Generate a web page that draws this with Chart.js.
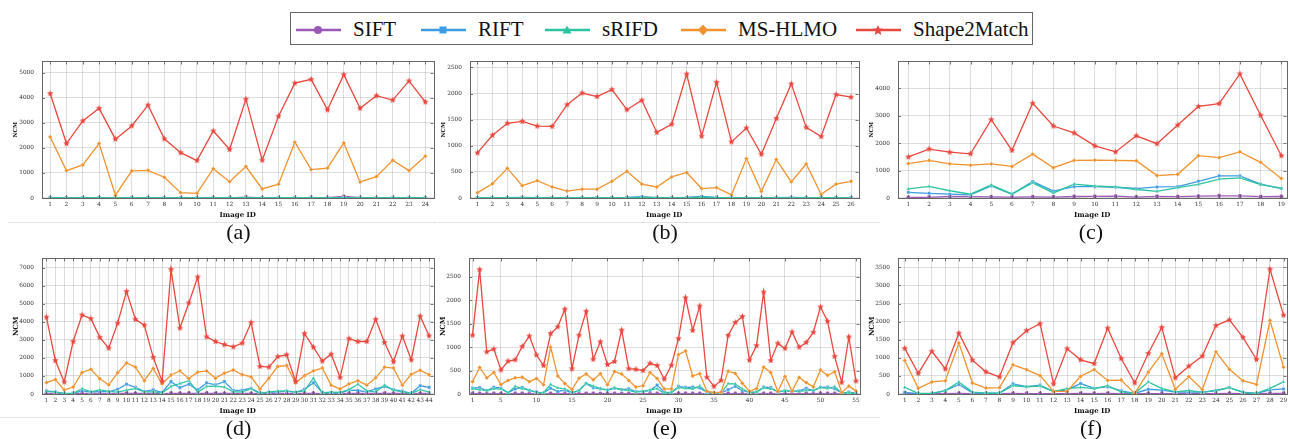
<!DOCTYPE html>
<html>
<head>
<meta charset="utf-8">
<script src="https://cdn.jsdelivr.net/npm/chart.js@4.4.1/dist/chart.umd.min.js"></script>
<style>
  body { margin: 0; width: 1290px; height: 439px; background: #fff; position: relative; overflow: hidden; font-family: "Liberation Serif", serif; }
  canvas { position: absolute; }
  .sub { position: absolute; width: 60px; text-align: center; font-size: 22px; line-height: 22px; color: #111; }
  .sep { position: absolute; height: 1px; background: #e3e3e3; }
  #legend { position: absolute; left: 290px; top: 12px; width: 743px; height: 33px; border: 1px solid #666; box-sizing: border-box; }
  #legend .item { position: absolute; top: 0; height: 33px; display: flex; align-items: center; font-size: 21px; color: #111; }
  #legend svg { margin-right: 12px; }
</style>
</head>
<body>
<div id="legend"></div>

<script>
// tick labels
const yTicksA = [0, 1000, 2000, 3000, 4000, 5000];
const yTicksB = [0, 500, 1000, 1500, 2000, 2500];
const yTicksC = [0, 1000, 2000, 3000, 4000];
const yTicksD = [0, 1000, 2000, 3000, 4000, 5000, 6000, 7000];
const yTicksE = [0, 500, 1000, 1500, 2000, 2500];
const yTicksF = [0, 500, 1000, 1500, 2000, 2500, 3000, 3500];
const xTicksE = [1, 5, 10, 15, 20, 25, 30, 35, 40, 45, 50, 55];

const methods = ['SIFT', 'RIFT', 'sRIFD', 'MS-HLMO', 'Shape2Match'];

// (a)
const siftA = [8, 5, 6, 7, 5, 6, 6, 5, 5, 6, 7, 8, 30, 6, 5, 6, 7, 15, 60, 10, 6, 5, 6, 5];
const riftA = [12, 10, 11, 13, 9, 12, 11, 10, 9, 10, 12, 11, 14, 10, 11, 13, 12, 11, 15, 12, 11, 10, 12, 11];
const srifdA = [10, 8, 9, 10, 7, 9, 9, 8, 8, 8, 9, 9, 10, 8, 9, 10, 9, 9, 10, 9, 9, 8, 9, 9];
const hlmoA = [2437, 1093, 1319, 2173, 113, 1080, 1106, 829, 214, 188, 1168, 653, 1256, 364, 553, 2224, 1131, 1193, 2198, 641, 854, 1508, 1093, 1671];
const s2mA = [4170, 2173, 3078, 3580, 2350, 2877, 3706, 2362, 1809, 1495, 2676, 1935, 3945, 1508, 3266, 4585, 4736, 3518, 4925, 3580, 4083, 3907, 4673, 3832];

// (b)
const siftB = [3, 2, 3, 4, 2, 3, 2, 3, 2, 3, 4, 5, 3, 2, 3, 6, 3, 2, 3, 2, 3, 4, 3, 2, 3, 3];
const riftB = [8, 7, 9, 10, 8, 7, 6, 8, 7, 9, 10, 25, 8, 9, 10, 30, 12, 7, 8, 6, 9, 10, 8, 7, 9, 8];
const srifdB = [7, 6, 8, 9, 7, 6, 5, 7, 6, 8, 9, 12, 7, 8, 9, 14, 9, 6, 7, 5, 8, 9, 7, 6, 8, 7];
const hlmoB = [103, 272, 568, 236, 332, 211, 133, 169, 169, 320, 513, 266, 211, 405, 489, 181, 199, 60, 755, 127, 737, 308, 652, 72, 266, 320];
const s2mB = [864, 1202, 1431, 1467, 1377, 1371, 1787, 2011, 1944, 2077, 1691, 1872, 1256, 1413, 2373, 1184, 2216, 1075, 1341, 839, 1522, 2186, 1353, 1178, 1981, 1932];

// (c)
const siftC = [23, 25, 57, 50, 40, 35, 40, 35, 55, 60, 69, 35, 60, 50, 65, 80, 75, 50, 55];
const riftC = [207, 172, 138, 115, 437, 138, 598, 253, 414, 414, 391, 345, 402, 414, 609, 805, 805, 506, 345];
const srifdC = [333, 425, 264, 138, 471, 149, 552, 184, 506, 437, 402, 310, 241, 379, 494, 690, 736, 483, 356];
const hlmoC = [1253, 1368, 1241, 1195, 1241, 1149, 1598, 1103, 1368, 1379, 1368, 1356, 816, 862, 1540, 1471, 1678, 1299, 713];
const s2mC = [1494, 1782, 1667, 1609, 2851, 1736, 3448, 2621, 2368, 1897, 1678, 2264, 1977, 2655, 3333, 3437, 4517, 3011, 1540];

// (d)
const siftD = [30, 25, 15, 20, 35, 30, 35, 25, 30, 40, 35, 30, 30, 20, 40, 35, 40, 35, 40, 35, 35, 30, 30, 35, 20, 25, 30, 30, 20, 35, 40, 25, 25, 20, 30, 35, 30, 35, 35, 30, 30, 20, 35, 30];
const riftD = [175, 123, 20, 35, 175, 105, 140, 123, 263, 543, 368, 140, 228, 88, 683, 350, 543, 228, 613, 508, 683, 193, 210, 315, 53, 88, 123, 158, 88, 263, 613, 88, 70, 53, 210, 193, 123, 280, 420, 245, 158, 35, 455, 368];
const srifdD = [140, 105, 35, 35, 298, 123, 228, 140, 105, 210, 298, 123, 123, 70, 420, 578, 735, 105, 420, 438, 385, 123, 123, 280, 35, 123, 158, 175, 105, 175, 875, 70, 105, 88, 245, 543, 175, 123, 490, 210, 123, 35, 245, 105];
const hlmoD = [630, 805, 228, 385, 1190, 1365, 840, 508, 1173, 1715, 1488, 735, 1418, 560, 1050, 1278, 858, 1208, 1278, 875, 1155, 1330, 1068, 945, 280, 875, 1523, 1575, 613, 1015, 1278, 1435, 490, 280, 560, 735, 490, 893, 1488, 1435, 490, 1085, 1313, 1068];
const s2mD = [4253, 1855, 665, 2905, 4375, 4165, 3133, 2538, 3920, 5670, 4130, 3815, 2030, 700, 6895, 3650, 5040, 6475, 3168, 2905, 2730, 2608, 2818, 3955, 1523, 1488, 2065, 2170, 700, 3343, 2590, 1820, 2205, 910, 3063, 2905, 2905, 4130, 2853, 1785, 3203, 1890, 4305, 3220];

// (e)
const siftE = [10, 10, 8, 10, 8, 6, 10, 10, 8, 6, 6, 10, 8, 8, 6, 8, 10, 10, 8, 8, 10, 8, 8, 6, 6, 8, 10, 6, 6, 10, 10, 10, 10, 6, 5, 5, 10, 10, 8, 6, 6, 10, 10, 6, 8, 8, 8, 10, 8, 10, 10, 10, 5, 6, 5];
const riftE = [128, 135, 74, 142, 128, 20, 108, 142, 74, 47, 20, 121, 54, 81, 20, 74, 222, 135, 108, 81, 121, 94, 108, 54, 54, 74, 189, 40, 27, 162, 142, 148, 128, 34, 13, 20, 94, 162, 74, 40, 47, 148, 135, 40, 67, 61, 67, 121, 74, 142, 148, 115, 20, 40, 20];
const srifdE = [108, 94, 74, 108, 108, 27, 162, 115, 81, 34, 27, 202, 128, 108, 34, 74, 229, 169, 115, 88, 135, 94, 74, 40, 54, 88, 115, 13, 40, 135, 121, 108, 169, 40, 27, 20, 222, 216, 108, 27, 40, 128, 108, 54, 67, 67, 54, 74, 81, 135, 121, 155, 20, 27, 13];
const hlmoE = [263, 566, 344, 458, 202, 290, 344, 357, 263, 330, 195, 997, 384, 222, 94, 337, 425, 303, 431, 195, 478, 425, 290, 148, 175, 458, 330, 108, 108, 836, 916, 384, 431, 61, 27, 40, 485, 438, 229, 61, 115, 573, 458, 54, 371, 61, 350, 243, 155, 512, 398, 472, 34, 168, 67];
const s2mE = [1253, 2648, 896, 957, 512, 701, 728, 1011, 1233, 829, 606, 1287, 1429, 1806, 539, 1253, 1759, 741, 1112, 627, 694, 1361, 539, 526, 499, 654, 606, 317, 613, 1179, 2049, 1354, 1873, 357, 162, 290, 1247, 1523, 1651, 721, 1031, 2170, 714, 1078, 970, 1321, 997, 1098, 1314, 1853, 1550, 802, 249, 1213, 276];

// (f)
const siftF = [15, 10, 10, 12, 15, 10, 10, 10, 15, 12, 12, 10, 12, 15, 12, 15, 10, 8, 12, 12, 10, 10, 10, 12, 15, 10, 8, 15, 15];
const riftF = [44, 9, 9, 96, 263, 35, 26, 26, 280, 201, 245, 70, 114, 289, 158, 201, 88, 18, 131, 105, 53, 53, 53, 88, 175, 53, 18, 114, 140];
const srifdF = [184, 18, 18, 96, 333, 53, 26, 26, 228, 201, 219, 70, 149, 184, 149, 228, 61, 18, 333, 158, 61, 96, 44, 105, 175, 44, 18, 158, 333];
const hlmoF = [928, 158, 333, 368, 1409, 306, 166, 175, 805, 674, 508, 70, 70, 490, 674, 376, 385, 18, 604, 1111, 131, 481, 123, 1164, 683, 368, 263, 2030, 744];
const s2mF = [1260, 569, 1181, 691, 1680, 936, 613, 473, 1418, 1750, 1943, 280, 1251, 945, 840, 1820, 980, 306, 1120, 1838, 446, 770, 1050, 1890, 2048, 1566, 954, 3448, 2179];

const colors = ['#9b59b6', '#3d9be3', '#2cc4a0', '#f0922e', '#e8483f'];
const styles = ['circle', 'rect', 'triangle', 'rectRot', 'star'];

function starImg(color, r) {
  const c = document.createElement('canvas');
  const s = Math.ceil(r * 2) + 2;
  c.width = c.height = s;
  const g = c.getContext('2d');
  g.beginPath();
  for (let i = 0; i < 10; i++) {
    const a = -Math.PI / 2 + i * Math.PI / 5;
    const rr = i % 2 ? r * 0.45 : r;
    g.lineTo(s / 2 + rr * Math.cos(a), s / 2 + rr * Math.sin(a));
  }
  g.closePath();
  g.fillStyle = color;
  g.fill();
  return c;
}
const starPoint = starImg(colors[4], 3.4);

const panels = [
  { tag: 'a', left: 42, right: 435, top: 54, bottom: 198, ymax: 5450, yTicks: yTicksA, xPadR: 0.5, small: true, series: [siftA, riftA, srifdA, hlmoA, s2mA] },
  { tag: 'b', left: 470, right: 860, top: 54, bottom: 198, ymax: 2615, yTicks: yTicksB, xPadR: 0.5, small: true, series: [siftB, riftB, srifdB, hlmoB, s2mB] },
  { tag: 'c', left: 898, right: 1288, top: 54, bottom: 198, ymax: 4970, yTicks: yTicksC, xPadR: 0.25, small: true, series: [siftC, riftC, srifdC, hlmoC, s2mC] },
  { tag: 'd', left: 42, right: 435, top: 251, bottom: 394, ymax: 7500, yTicks: yTicksD, xPadR: 0.5, series: [siftD, riftD, srifdD, hlmoD, s2mD] },
  { tag: 'e', left: 469, right: 861, top: 251, bottom: 394, ymax: 2885, yTicks: yTicksE, xTicks: xTicksE, xPadR: 0.5, series: [siftE, riftE, srifdE, hlmoE, s2mE] },
  { tag: 'f', left: 898, right: 1288, top: 251, bottom: 394, ymax: 3745, yTicks: yTicksF, xPadR: 0.22, series: [siftF, riftF, srifdF, hlmoF, s2mF] }
];

// ticks drawn inward on all four sides + full frame
const frameTicks = {
  id: 'frameTicks',
  afterDraw(chart) {
    const { ctx, chartArea: a, scales: { x, y } } = chart;
    ctx.save();
    ctx.strokeStyle = '#555';
    ctx.lineWidth = 0.8;
    ctx.beginPath();
    x.ticks.forEach(t => {
      const px = Math.round(x.getPixelForValue(t.value)) + 0.5;
      ctx.moveTo(px, a.bottom); ctx.lineTo(px, a.bottom - 3);
      ctx.moveTo(px, a.top); ctx.lineTo(px, a.top + 3);
    });
    y.ticks.forEach(t => {
      const py = Math.round(y.getPixelForValue(t.value)) + 0.5;
      ctx.moveTo(a.left, py); ctx.lineTo(a.left + 3, py);
      ctx.moveTo(a.right, py); ctx.lineTo(a.right - 3, py);
    });
    ctx.stroke();
    ctx.lineWidth = 1;
    ctx.strokeStyle = '#666';
    ctx.strokeRect(Math.round(a.left) + 0.5, Math.round(a.top) + 0.5, Math.round(a.right - a.left), Math.round(a.bottom - a.top));
    ctx.restore();
  }
};

const tickFont = { family: 'DejaVu Serif', size: 5.8 };
const gridStyle = { color: 'rgba(0,0,0,0.13)', drawTicks: false };

panels.forEach(p => {
  const padR = 3;
  const canvas = document.createElement('canvas');
  canvas.style.left = (p.left - 42) + 'px';
  canvas.style.top = (p.top - 4) + 'px';
  canvas.width = p.right - p.left + 42 + padR;
  canvas.height = p.bottom - p.top + 4 + 24;
  document.body.appendChild(canvas);

  const n = p.series[0].length;
  const xTicks = p.xTicks || p.series[0].map((v, i) => i + 1);

  // Shape2Match first so it is drawn on top
  const datasets = [4, 3, 2, 1, 0].map(k => ({
    label: methods[k],
    data: p.series[k].map((v, i) => ({ x: i + 1, y: v })),
    borderColor: colors[k],
    backgroundColor: colors[k],
    pointBackgroundColor: colors[k],
    pointBorderColor: k === 4 ? colors[k] : 'rgba(255,255,255,0.6)',
    pointBorderWidth: 0.5,
    pointStyle: k === 4 ? starPoint : styles[k],
    pointRadius: k === 4 ? 3 : 2.2,
    borderWidth: 1.3,
    tension: 0
  }));

  new Chart(canvas, {
    type: 'line',
    data: { datasets },
    options: {
      responsive: false,
      animation: false,
      events: [],
      layout: { padding: { top: 4, right: padR, left: 0, bottom: 0 } },
      plugins: { legend: { display: false }, tooltip: { enabled: false } },
      scales: {
        x: {
          type: 'linear',
          min: 0.5,
          max: n + p.xPadR,
          afterBuildTicks: s => { s.ticks = xTicks.map(v => ({ value: v })); },
          afterFit: s => { s.height = 24; },
          grid: { ...gridStyle, borderDash: [1, 1.5] },
          border: { display: false },
          ticks: { font: tickFont, color: '#333', padding: 3, maxRotation: 0, autoSkip: false, callback: v => String(v) },
          title: { display: true, text: 'Image ID', color: '#111', font: { family: 'DejaVu Serif', size: 7, weight: 'bold' }, padding: { top: 0, bottom: 3 } }
        },
        y: {
          min: 0,
          max: p.ymax,
          afterBuildTicks: s => { s.ticks = p.yTicks.map(v => ({ value: v })); },
          afterFit: s => { s.width = 42; },
          grid: { ...gridStyle, borderDash: [1, 1.5] },
          border: { display: false },
          ticks: { font: tickFont, color: '#333', padding: 8, callback: v => String(v) },
          title: { display: true, text: 'NCM', color: '#111', font: { family: 'DejaVu Serif', size: p.small ? 5.5 : 7, weight: 'bold' }, padding: { top: 12, bottom: 0 } }
        }
      }
    },
    plugins: [frameTicks]
  });

  const lab = document.createElement('div');
  lab.className = 'sub';
  lab.textContent = '(' + p.tag + ')';
  lab.style.left = ((p.left + p.right) / 2 - 30 + (p.tag === 'c' || p.tag === 'f' ? -2 : 0)) + 'px';
  lab.style.top = (p.bottom + 23) + 'px';
  document.body.appendChild(lab);
});

// faint subfigure frame lines
[[8, 222, 429], [438, 222, 422], [860, 222, 20], [0, 417, 440], [430, 417, 430], [860, 417, 20]].forEach(([x, y, w]) => {
  const d = document.createElement('div');
  d.className = 'sep';
  d.style.left = x + 'px'; d.style.top = y + 'px'; d.style.width = w + 'px';
  document.body.appendChild(d);
});

// legend
const legendX = [5, 130, 254, 390, 565];
const legend = document.getElementById('legend');
methods.forEach((m, k) => {
  const c = colors[k];
  let mk;
  if (k === 0) mk = `<circle cx="22" cy="9" r="4" fill="${c}"/>`;
  else if (k === 1) mk = `<rect x="18.5" y="5.5" width="7" height="7" fill="${c}"/>`;
  else if (k === 2) mk = `<polygon points="22,4.5 26.5,12.5 17.5,12.5" fill="${c}"/>`;
  else if (k === 3) mk = `<polygon points="22,3.5 27,9 22,14.5 17,9" fill="${c}"/>`;
  else {
    let pts = [];
    for (let i = 0; i < 10; i++) {
      const a = -Math.PI / 2 + i * Math.PI / 5, r = i % 2 ? 2.5 : 5.5;
      pts.push((22 + r * Math.cos(a)).toFixed(2) + ',' + (9.5 + r * Math.sin(a)).toFixed(2));
    }
    mk = `<polygon points="${pts.join(' ')}" fill="${c}"/>`;
  }
  const item = document.createElement('div');
  item.className = 'item';
  item.style.left = legendX[k] + 'px';
  item.innerHTML = `<svg width="45" height="18"><line x1="0" y1="9" x2="45" y2="9" stroke="${c}" stroke-width="2.5"/>${mk}</svg><span>${m}</span>`;
  legend.appendChild(item);
});
</script>
</body>
</html>
